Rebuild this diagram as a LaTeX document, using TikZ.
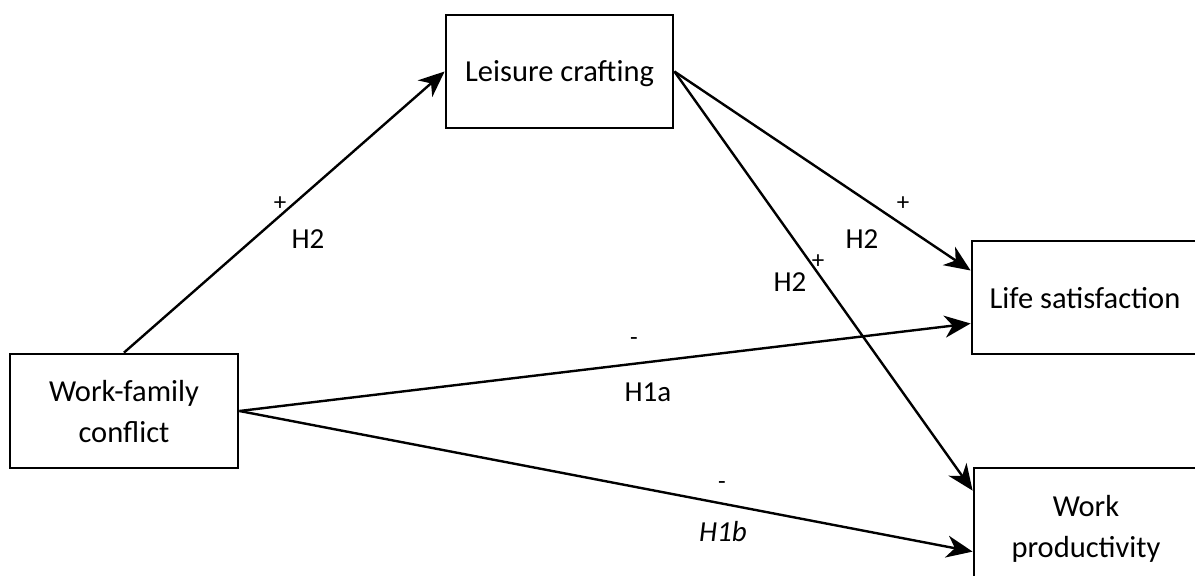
\documentclass[tikz,border=0pt]{standalone}
\usepackage{fontspec}
\setmainfont{Carlito}
\usetikzlibrary{arrows.meta}

\begin{document}
\begin{tikzpicture}[x=1pt, y=1pt,
    box/.style={draw, line width=2.8pt, minimum width=228pt, minimum height=114pt,
                align=center, font=\fontsize{30.5}{41}\selectfont, inner sep=0pt,
                text depth=0pt},
    link/.style={line width=2.4pt, -{Stealth[length=26pt, width=22pt, inset=8pt]}},
    sign/.style={font=\fontsize{25}{26}\selectfont},
    hyp/.style={font=\fontsize{29}{30}\selectfont}]
    \useasboundingbox (0, 0) rectangle (1195, 576);

    % Constructs
    \node[box] (wfc) at (124, 165) {Work-family\\conflict};
    \node[box, minimum width=227pt, minimum height=113pt] (leisure) at (559.5, 504.5) {Leisure crafting};
    \node[box, minimum width=226pt, minimum height=113pt] (life) at (1085, 278.5) {Life satisfaction};
    \node[box, minimum width=224pt, minimum height=116pt] (prod) at (1086, 50) {Work\\productivity};

    % Paths
    \draw[link] (wfc.north) -- (leisure.west);
    \draw[link] (leisure.east) -- ([yshift=27pt]life.west);
    \draw[link] (leisure.east) -- ([yshift=-24pt]prod.north west);
    \draw[link] (wfc.east) -- ([yshift=-26pt]life.west);
    \draw[link] (wfc.east) -- ([yshift=-85pt]prod.north west);

    % Signs and hypotheses
    \node[sign] (s1) at (280, 372) {+};
    \node[hyp] (h1) at (308, 337) {H2};
    \node[sign] (s2) at (903, 372) {+};
    \node[hyp] (h2) at (862, 337) {H2};
    \node[sign] (s3) at (818, 314) {+};
    \node[hyp] (h3) at (790, 294) {H2};
    \node[sign] (s4) at (634, 234) {-};
    \node[hyp] (h4) at (648, 184) {H1a};
    \node[sign] (s5) at (722, 90) {-};
    \node[hyp, font=\fontsize{29}{30}\selectfont\itshape] (h5) at (723, 44) {H1b};
\end{tikzpicture}
\end{document}
